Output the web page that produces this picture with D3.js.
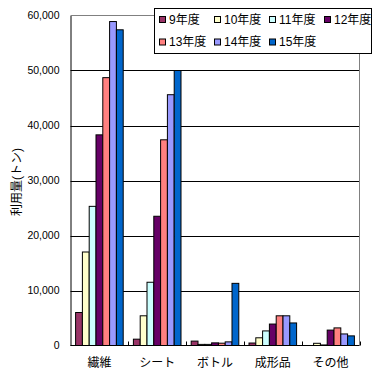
<!DOCTYPE html>
<html><head><meta charset="utf-8">
<script src="https://cdn.jsdelivr.net/npm/d3@7"></script>
<style>body{margin:0;background:#fff}svg{display:block}text{font-family:"Liberation Sans","Noto Sans CJK JP",sans-serif}</style>
</head><body>
<svg id="c" width="379" height="377"></svg>
<script>
const categories = ["繊維","シート","ボトル","成形品","その他"];
const seriesNames = ["9年度","10年度","11年度","12年度","13年度","14年度","15年度"];
const colors = ["#993366","#FFFFCC","#CCFFFF","#660066","#FF8080","#9999FF","#0066CC"];
const v9  = [6000, 1150, 800, 450, 0];
const v10 = [17000, 5400, 200, 1400, 400];
const v11 = [25300, 11500, 200, 2650, 100];
const v12 = [38300, 23500, 480, 3900, 2800];
const v13 = [48700, 37400, 420, 5400, 3200];
const v14 = [58900, 45600, 660, 5400, 2100];
const v15 = [57400, 50000, 11300, 4100, 1750];
const seriesValues = [v9, v10, v11, v12, v13, v14, v15];
const yTicks = [0,10000,20000,30000,40000,50000,60000];
const yTitle = "利用量(トン)";

const svg = d3.select("#c");
const L = 70.5, R = 359.5, T = 15.5, B = 345.5;
const x0 = d3.scaleBand().domain(categories).range([L, R]).padding(0);
const x1 = d3.scaleBand().domain(seriesNames).range([0, x0.bandwidth()]).paddingInner(0).paddingOuter(0.75);
const y = d3.scaleLinear().domain([0, 60000]).range([B, T]);

// gridlines
svg.append("g").selectAll("line").data(yTicks.filter(d => d > 0 && d < 60000)).join("line")
  .attr("x1", L).attr("x2", R).attr("y1", d => Math.round(y(d)) + 0.5).attr("y2", d => Math.round(y(d)) + 0.5)
  .attr("stroke", "#000").attr("stroke-width", 1);
// plot border top/right gray
svg.append("path").attr("d", `M${L},${T}H${R}V${B}`).attr("fill", "none").attr("stroke", "#808080");

// bars
const g = svg.append("g");
categories.forEach((c, ci) => {
  seriesNames.forEach((s, si) => {
    const val = seriesValues[si][ci];
    if (val <= 0) return;
    const x = x0(c) + x1(s);
    const yy = y(val);
    g.append("rect")
      .attr("x", x).attr("y", yy)
      .attr("width", x1.bandwidth()).attr("height", Math.max(0, B - yy))
      .attr("fill", colors[si]).attr("stroke", "#000").attr("stroke-width", 1);
  });
});

// y axis
const yAxis = d3.axisLeft(y).tickValues(yTicks).tickSize(0).tickPadding(11)
  .tickFormat(d3.format(","));
const ya = svg.append("g").attr("transform", `translate(${L},0)`).call(yAxis);
ya.select(".domain").attr("stroke", "#000");
ya.selectAll("text").attr("font-size", "10.5px").attr("fill", "#000")
  .attr("font-family", '"Liberation Sans",sans-serif');

// x axis
const xa = svg.append("g").attr("transform", `translate(0,${B})`)
  .call(d3.axisBottom(x0).tickSize(0).tickPadding(13));
xa.select(".domain").attr("stroke", "#000").attr("d", `M${L},0H${R}`);
xa.selectAll("text").attr("font-size", "12px").attr("fill", "#000");
// inward ticks at band boundaries
const bounds = categories.map(c => x0(c)).concat([R]).slice(1);
svg.append("g").selectAll("line").data(bounds).join("line")
  .attr("x1", d => Math.round(d) + 0.5).attr("x2", d => Math.round(d) + 0.5)
  .attr("y1", B).attr("y2", B - 4).attr("stroke", "#000");

// y title
svg.append("text").attr("transform", "translate(21,182) rotate(-90)")
  .attr("text-anchor", "middle").attr("font-size", "12px").attr("fill", "#000").text(yTitle);

// legend
const lg = svg.append("g");
lg.append("rect").attr("x", 154.5).attr("y", 8.5).attr("width", 217).attr("height", 45)
  .attr("fill", "#fff").attr("stroke", "#000");
seriesNames.forEach((s, i) => {
  const col = i % 4, row = Math.floor(i / 4);
  const lx = 159.5 + col * 55, ly = 16.5 + row * 22.5;
  lg.append("rect").attr("x", lx).attr("y", ly).attr("width", 6).attr("height", 6)
    .attr("fill", colors[i]).attr("stroke", "#000");
  lg.append("text").attr("x", lx + 9.5).attr("y", ly + 3).attr("dy", "0.36em")
    .attr("font-size", "12px").attr("fill", "#000").text(s);
});
</script>
</body></html>
